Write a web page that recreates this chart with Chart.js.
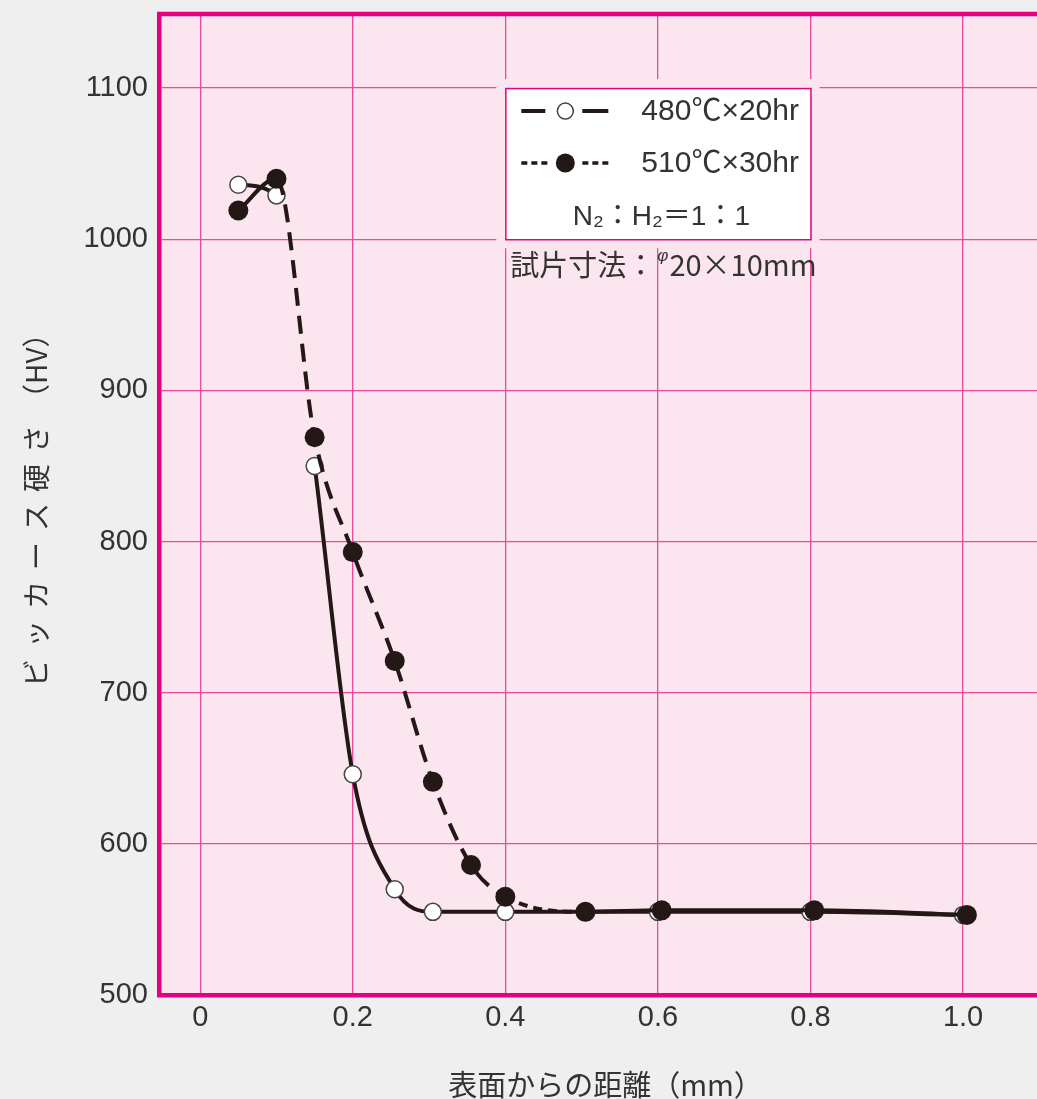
<!DOCTYPE html>
<html><head><meta charset="utf-8">
<script src="https://cdn.jsdelivr.net/npm/chart.js@4.4.1/dist/chart.umd.min.js"></script>
<style>
html,body{margin:0;padding:0;background:#eeefee;overflow:hidden;width:1037px;height:1099px}
#wrap{position:relative;width:1062px;height:1099px}
</style></head><body><div id="wrap"><canvas id="c" width="1062" height="1099"></canvas></div>
<script>
const distance480 = [0.05, 0.1, 0.15, 0.2, 0.255, 0.305, 0.4, 0.6, 0.8, 1.0];
const hardness480 = [1036, 1029, 850, 646, 570, 555, 555, 555, 555, 553];
const distance510 = [0.05, 0.1, 0.15, 0.2, 0.255, 0.305, 0.355, 0.4, 0.505, 0.605, 0.805, 1.005];
const hardness510 = [1019, 1040, 869, 793, 721, 641, 586, 565, 555, 556, 556, 553];
const xTicks = [0, 0.2, 0.4, 0.6, 0.8, 1.0];
const xTickLabels = ['0', '0.2', '0.4', '0.6', '0.8', '1.0'];
const yTicks = [500, 600, 700, 800, 900, 1000, 1100];
const yTickLabels = ['500', '600', '700', '800', '900', '1000', '1100'];
const seriesNames = ['480℃×20hr', '510℃×30hr'];
const gasNote = 'N₂：H₂＝1：1';
const sizeNoteA = '試片寸法：';
const sizeNotePhi = 'φ';
const sizeNoteB = '20×10mm';
const xTitle = '表面からの距離（mm）';
const yTitleMain = 'ビッカース硬さ';
const yTitleUnit = '（HV）';

const DARK = '#231815';
const MAG = '#e4007f';
const GRID = '#ec4a9c';
const PINK = '#fbe5ee';
const NUMFONT = '"Liberation Sans", Arial, "Noto Sans CJK JP", sans-serif';
const JPFONT = '"Noto Sans CJK JP", "Liberation Sans", sans-serif';

const toPts = (xs, ys) => xs.map((x, i) => ({x: x, y: ys[i]}));

const decor = {
  id: 'decor',
  beforeDraw(chart) {
    const {ctx, chartArea: a} = chart;
    ctx.save();
    ctx.fillStyle = PINK;
    ctx.fillRect(a.left, a.top, a.right - a.left, a.bottom - a.top);
    ctx.restore();
  },
  beforeDatasetsDraw(chart) {
    const {ctx} = chart;
    const xs = chart.scales.x, ys = chart.scales.y;
    const L = xs.getPixelForValue(0.4), R = xs.getPixelForValue(0.8);
    const T = ys.getPixelForValue(1100), B = ys.getPixelForValue(1000);
    ctx.save();
    ctx.fillStyle = PINK;
    ctx.fillRect(L - 9, T - 9, R - L + 18, B - T + 18);
    ctx.fillStyle = '#ffffff';
    ctx.fillRect(L, T, R - L, B - T);
    ctx.strokeStyle = MAG; ctx.lineWidth = 1.5;
    ctx.strokeRect(L + 0.5, T + 0.5, R - L, B - T);
    const r1 = T + 23, r2 = T + 75;
    ctx.strokeStyle = DARK; ctx.lineWidth = 4;
    ctx.beginPath(); ctx.moveTo(L + 16, r1); ctx.lineTo(L + 40, r1);
    ctx.moveTo(L + 77, r1); ctx.lineTo(L + 103, r1); ctx.stroke();
    ctx.fillStyle = '#fff'; ctx.lineWidth = 1.5; ctx.strokeStyle = '#444';
    ctx.beginPath(); ctx.arc(L + 60, r1, 8, 0, Math.PI * 2); ctx.fill(); ctx.stroke();
    ctx.strokeStyle = DARK; ctx.lineWidth = 3.5; ctx.setLineDash([6, 4]);
    ctx.beginPath(); ctx.moveTo(L + 16, r2); ctx.lineTo(L + 42, r2);
    ctx.moveTo(L + 77, r2); ctx.lineTo(L + 103, r2); ctx.stroke();
    ctx.setLineDash([]);
    ctx.fillStyle = DARK;
    ctx.beginPath(); ctx.arc(L + 60, r2, 9.5, 0, Math.PI * 2); ctx.fill();
    ctx.fillStyle = '#333';
    ctx.textBaseline = 'middle'; ctx.textAlign = 'left';
    ctx.font = '30px ' + NUMFONT;
    ctx.fillText(seriesNames[0], L + 136, r1 + 1);
    ctx.fillText(seriesNames[1], L + 136, r2 + 1);
    ctx.textAlign = 'center';
    ctx.font = '28px ' + NUMFONT;
    ctx.fillText(gasNote, L + 156, T + 129);
    ctx.textAlign = 'left';
    ctx.font = '29px ' + JPFONT;
    const ny = B + 26;
    ctx.fillText(sizeNoteA, L + 5, ny);
    const wA = ctx.measureText(sizeNoteA).width;
    ctx.font = 'italic 17px ' + NUMFONT;
    ctx.fillText(sizeNotePhi, L + 5 + wA + 2, ny - 9);
    const wP = ctx.measureText(sizeNotePhi).width;
    ctx.font = '29px ' + JPFONT;
    ctx.fillText(sizeNoteB, L + 5 + wA + wP + 3, ny);
    ctx.restore();
  },
  afterDraw(chart) {
    const {ctx, chartArea: a} = chart;
    ctx.save();
    ctx.strokeStyle = MAG; ctx.lineWidth = 4.5;
    ctx.beginPath(); ctx.moveTo(a.left - 2, a.top); ctx.lineTo(a.right, a.top); ctx.stroke();
    ctx.translate(36, 687);
    ctx.rotate(-Math.PI / 2);
    ctx.font = '28px ' + JPFONT;
    ctx.textAlign = 'left'; ctx.textBaseline = 'middle';
    ctx.fillStyle = '#333';
    ctx.letterSpacing = '11px';
    ctx.fillText(yTitleMain, 0, 0);
    const w1 = ctx.measureText(yTitleMain).width;
    ctx.letterSpacing = '0px';
    ctx.fillText(yTitleUnit, w1 + 2, 0);
    ctx.restore();
  }
};

new Chart(document.getElementById('c'), {
  type: 'line',
  data: {
    datasets: [
      {
        label: seriesNames[1],
        data: toPts(distance510, hardness510),
        order: 0,
        borderColor: DARK,
        borderWidth: 4,
        cubicInterpolationMode: 'monotone',
        pointRadius: 10,
        pointBackgroundColor: DARK,
        pointBorderColor: DARK,
        pointBorderWidth: 0,
        segment: {
          borderDash: ctx => {
            const i = ctx.p0DataIndex;
            if (i === 0 || i >= 8) return [];
            if (i === 7) return [9, 6];
            return [18, 10];
          }
        }
      },
      {
        label: seriesNames[0],
        data: toPts(distance480, hardness480),
        order: 1,
        borderColor: DARK,
        borderWidth: 4,
        cubicInterpolationMode: 'monotone',
        pointRadius: 8.5,
        pointBackgroundColor: '#ffffff',
        pointBorderColor: '#444',
        pointBorderWidth: 1.5,
        segment: {
          borderColor: ctx => ctx.p0DataIndex === 1 ? 'rgba(0,0,0,0)' : DARK
        }
      }
    ]
  },
  options: {
    responsive: false,
    animation: false,
    events: [],
    layout: {padding: {top: 14, left: 0, right: 0, bottom: 0}},
    plugins: {legend: {display: false}, tooltip: {enabled: false}},
    scales: {
      x: {
        type: 'linear',
        min: -0.054, max: 1.1166,
        afterBuildTicks: s => { s.ticks = xTicks.map(v => ({value: v})); },
        afterFit: s => { s.height = 104; s.paddingLeft = 0; s.paddingRight = 0; },
        ticks: {
          callback: (v, i) => xTickLabels[i],
          color: '#333', padding: 6,
          font: {family: NUMFONT, size: 29}
        },
        grid: {color: GRID, lineWidth: 1.3, drawTicks: false},
        border: {color: MAG, width: 4.5},
        title: {
          display: true, text: xTitle, color: '#333',
          font: {family: JPFONT, size: 29, lineHeight: 1.0},
          padding: {top: 0, bottom: 0}
        }
      },
      y: {
        type: 'linear',
        min: 500, max: 1149,
        afterBuildTicks: s => { s.ticks = yTicks.map(v => ({value: v})); },
        afterFit: s => { s.width = 159; s.paddingTop = 0; s.paddingBottom = 0; },
        ticks: {
          callback: (v, i) => yTickLabels[i],
          color: '#333', padding: 11,
          font: {family: NUMFONT, size: 29}
        },
        grid: {color: GRID, lineWidth: 1.3, drawTicks: false},
        border: {color: MAG, width: 4.5}
      }
    }
  },
  plugins: [decor]
});
</script></body></html>
